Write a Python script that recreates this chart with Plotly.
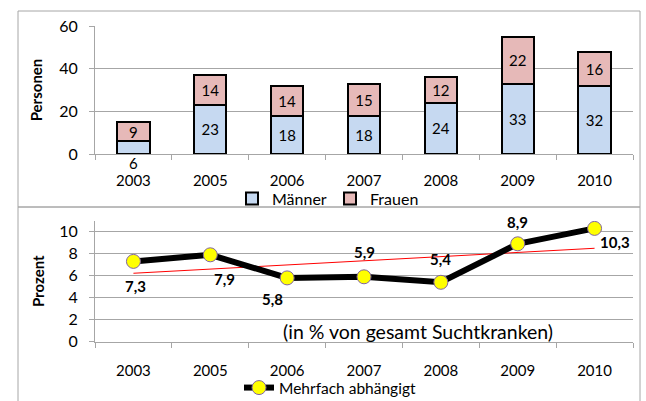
import numpy as np
import plotly.graph_objects as go

# ---- data ----
years = ['2003', '2005', '2006', '2007', '2008', '2009', '2010']
maenner = [6, 23, 18, 18, 24, 33, 32]
frauen = [9, 14, 14, 15, 12, 22, 16]
prozent = [7.3, 7.9, 5.8, 5.9, 5.4, 8.9, 10.3]
prozent_text = ['7,3', '7,9', '5,8', '5,9', '5,4', '8,9', '10,3']

W, H = 646, 401
FONT = 'Lato'

def px_x(v):
    return v / W

def px_y(v):
    return 1 - v / H

# trend line (linear fit over category index)
idx = np.arange(len(years))
k, d = np.polyfit(idx, prozent, 1)
trend = (k * idx + d).tolist()

fig = go.Figure()

# Männer text: 2003 too small -> shown below via annotation
m_text = [str(v) if v >= 10 else '' for v in maenner]

fig.add_trace(go.Bar(
    x=years, y=maenner, name='Männer', text=m_text,
    textposition='inside', insidetextanchor='middle', textangle=0,
    textfont=dict(family=FONT, size=15, color='black'),
    marker=dict(color='#C6D9F1', line=dict(color='black', width=2)),
    width=0.42, xaxis='x', yaxis='y', legend='legend',
    constraintext='none'))
fig.add_trace(go.Bar(
    x=years, y=frauen, name='Frauen', text=[str(v) for v in frauen],
    textposition='inside', insidetextanchor='middle', textangle=0,
    textfont=dict(family=FONT, size=15, color='black'),
    marker=dict(color='#E6B9B8', line=dict(color='black', width=2)),
    width=0.42, xaxis='x', yaxis='y', legend='legend',
    constraintext='none'))

fig.add_trace(go.Scatter(
    x=years, y=trend, mode='lines', line=dict(color='red', width=1),
    showlegend=False, xaxis='x2', yaxis='y2', hoverinfo='skip'))
fig.add_trace(go.Scatter(
    x=years, y=prozent, name='Mehrfach abhängigt', mode='lines+markers',
    line=dict(color='black', width=6),
    marker=dict(size=14, color='#FFFF00', line=dict(color='#8064A2', width=1)),
    xaxis='x2', yaxis='y2', legend='legend2'))

# annotations for line labels (offsets in px from the point)
label_shift = [(2, -25), (14, -24), (-15, -21), (0, 25), (0, 23), (0, 22), (20, -14)]
ann = []
for i, (v, t, (dx, dy)) in enumerate(zip(prozent, prozent_text, label_shift)):
    ann.append(dict(x=i, y=v, xref='x2', yref='y2', text='<b>%s</b>' % t,
                    showarrow=False, xshift=dx, yshift=dy,
                    font=dict(family=FONT, size=15, color='black')))
# small Männer value below bar
for i, v in enumerate(maenner):
    if v < 10:
        ann.append(dict(x=i, y=0, xref='x', yref='y', text=str(v), showarrow=False,
                        yshift=-9, font=dict(family=FONT, size=15, color='black')))
ann.append(dict(x=px_x(418), y=px_y(331), xref='paper', yref='paper',
                xanchor='center', yanchor='middle',
                text='(in % von gesamt Suchtkranken)', showarrow=False,
                font=dict(family=FONT, size=19.5, color='black')))

grid = '#A6A6A6'
common_x = dict(type='category', showgrid=False, showline=True, linecolor=grid,
                ticks='outside', ticklen=5, tickcolor=grid, tickson='boundaries',
                tickfont=dict(family=FONT, size=15, color='black'),
                range=[-0.5, len(years) - 0.5], autorange=False, automargin=False,
                domain=[px_x(95), px_x(633)])
common_y = dict(showgrid=True, gridcolor=grid, showline=True, linecolor=grid,
                ticks='outside', ticklen=5, tickcolor=grid, zeroline=False,
                tickfont=dict(family=FONT, size=16, color='black'),
                ticklabelstandoff=8, automargin=False)

fig.update_layout(
    width=W, height=H, margin=dict(l=0, r=0, t=0, b=0, pad=0, autoexpand=False),
    paper_bgcolor='white', plot_bgcolor='white', barmode='stack',
    font=dict(family=FONT, color='black'),
    xaxis=dict(common_x, anchor='y', ticklabelstandoff=13),
    yaxis=dict(common_y, range=[0, 60], dtick=20, domain=[px_y(154), px_y(26)],
               anchor='x',
               title=dict(text='<b>Personen</b>', standoff=12,
                          font=dict(family=FONT, size=15, color='black'))),
    xaxis2=dict(common_x, anchor='y2', ticklabelstandoff=15),
    yaxis2=dict(common_y, range=[0, 11], tickvals=[0, 2, 4, 6, 8, 10],
                domain=[px_y(341.7), px_y(220.7)], anchor='x2',
                title=dict(text='<b>Prozent</b>', standoff=10,
                           font=dict(family=FONT, size=15, color='black'))),
    legend=dict(orientation='h', x=px_x(232), y=px_y(198.5), xanchor='left',
                yanchor='middle', font=dict(family=FONT, size=16, color='black'),
                bgcolor='rgba(0,0,0,0)', entrywidth=53, traceorder='normal'),
    legend2=dict(orientation='h', x=px_x(239), y=px_y(388), xanchor='left',
                 yanchor='middle', font=dict(family=FONT, size=15.5, color='black'),
                 bgcolor='rgba(0,0,0,0)'),
    uniformtext=dict(minsize=15, mode='show'),
    annotations=ann,
    shapes=[
        dict(type='rect', xref='paper', yref='paper', x0=px_x(18), x1=px_x(640),
             y0=px_y(207), y1=px_y(11), line=dict(color=grid, width=1)),
        dict(type='rect', xref='paper', yref='paper', x0=px_x(18), x1=px_x(640),
             y0=px_y(410), y1=px_y(207), line=dict(color=grid, width=1)),
    ],
)

fig.write_html('out.html', config={'displayModeBar': False},
               post_script="document.body.style.margin='0px';"
                           "document.body.style.overflow='hidden';")
